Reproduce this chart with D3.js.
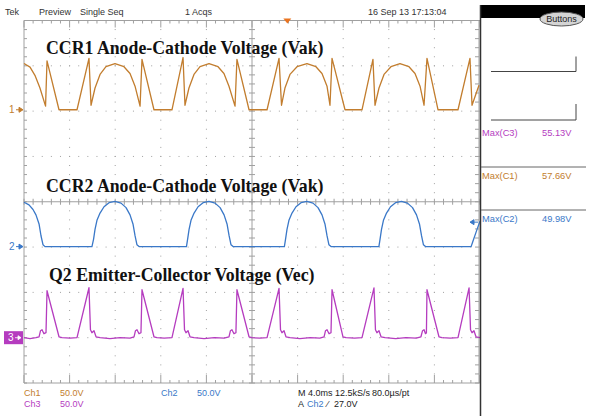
<!DOCTYPE html>
<html>
<head>
<meta charset="utf-8">
<script src="https://cdn.jsdelivr.net/npm/d3@7"></script>
<style>
  body { margin: 0; background: #fff; }
  svg { display: block; }
  text { font-family: "Liberation Sans", Arial, sans-serif; font-size: 9px; }
</style>
</head>
<body>
<svg width="589" height="416"></svg>
<script>
// scope settings
let voltsPerDiv = [50, 50, 50];
let chOffsetDiv = [2.03, -0.99, -3.0];   // ground position of ch1..ch3, in divisions
let msPerDiv = 4;
let triggerTime = 23.1;   // ms
let triggerLevel = 27.0;  // V on ch2

// ch1 - CCR1 anode-cathode [ms, V]
let ch1Points = [
    [0, 51], [0.53, 47], [0.96, 38], [1.40, 24], [1.89, 4], [2.02, 54], [3.07, 0], [4.65, 0], [5.70, 56.7], [5.88, 5],
    [6.23, 24], [6.67, 39], [7.19, 47.5], [7.98, 51], [8.77, 47.5], [9.30, 40], [9.74, 26], [10.18, 4], [10.35, 55.6], [11.40, 0],
    [12.98, 0], [13.95, 57.66], [14.12, 5],
    [14.47, 24], [14.91, 39], [15.44, 47.5], [16.23, 51], [17.02, 47.5], [17.54, 40], [17.98, 26], [18.51, 4], [18.68, 55.6], [19.74, 0],
    [21.32, 0], [22.37, 56.7], [22.59, 5],
    [22.89, 24], [23.33, 39], [23.95, 47.5], [24.82, 51], [25.61, 47.5], [26.14, 40], [26.58, 26], [26.84, 5], [27.02, 56.7], [28.16, 0],
    [29.65, 0], [30.61, 55.6], [30.79, 5],
    [31.14, 24], [31.58, 39], [32.19, 47.5], [32.98, 51], [33.77, 47.5], [34.30, 40], [34.74, 26], [35.09, 5], [35.35, 56.7], [36.32, 0],
    [38.07, 0], [39.12, 56.7], [39.30, 5], [39.91, 27]
];

// ch2 - CCR2 anode-cathode [ms, V]
let ch2Points = [
    [0, 49], [0.44, 46], [0.79, 41], [1.05, 35], [1.32, 25], [1.49, 12], [1.67, 2], [1.84, 0], [5.96, 0],
    [6.10, 8], [6.23, 19], [6.40, 29], [6.67, 37], [7.02, 44], [7.46, 48.5], [7.98, 50], [8.51, 48], [8.95, 43],
    [9.30, 35], [9.56, 25], [9.74, 12], [9.91, 2], [10.09, 0], [14.25, 0],
    [14.35, 8], [14.48, 19], [14.65, 29], [14.92, 37], [15.27, 44], [15.71, 48.5], [16.23, 50], [16.76, 48], [17.20, 43],
    [17.55, 35], [17.81, 25], [17.99, 12], [18.16, 2], [18.34, 0], [22.84, 0],
    [22.94, 8], [23.07, 19], [23.24, 29], [23.51, 37], [23.86, 44], [24.30, 48.5], [24.82, 49.98], [25.35, 48], [25.79, 43],
    [26.14, 35], [26.40, 25], [26.58, 12], [26.75, 2], [26.93, 0], [31.13, 0],
    [31.23, 8], [31.36, 19], [31.53, 29], [31.80, 37], [32.15, 44], [32.59, 48.5], [33.11, 50], [33.64, 48], [34.08, 43],
    [34.43, 35], [34.69, 25], [34.87, 12], [35.04, 2], [35.22, 0], [39.22, 0],
    [39.38, 6], [39.74, 19], [40, 28]
];

// ch3 - Q2 emitter-collector [ms, V]
let ch3Points = [
    [0, 0], [0.53, -1], [1.05, 0], [1.32, 1], [1.45, 7.7], [1.58, 8.8], [1.75, 4.4], [1.93, 5.5], [2.02, 51.8], [3.07, 1],
    [3.33, 0], [4.04, -0.5], [4.65, 0], [5.70, 55.13], [5.83, 8.8], [5.96, 5.5], [6.14, 7.7], [6.32, 1], [6.67, 0],
    [7.54, -1], [8.42, 0], [9.30, -0.5],
    [9.65, 1], [9.78, 7.7], [9.91, 8.8], [10.09, 4.4], [10.26, 5.5], [10.35, 52.9], [11.40, 1], [11.66, 0], [12.30, -0.5],
    [12.98, 0], [13.95, 54.5], [14.08, 8.8], [14.21, 5.5], [14.39, 7.7], [14.56, 1], [14.91, 0], [15.80, -1], [16.70, 0], [17.55, -0.5],
    [17.98, 1], [18.11, 7.7], [18.24, 8.8], [18.42, 4.4], [18.59, 5.5], [18.68, 52.9], [19.74, 1], [20.00, 0], [20.70, -0.5],
    [21.32, 0], [22.37, 54.5], [22.50, 8.8], [22.63, 5.5], [22.81, 7.7], [22.98, 1], [23.33, 0], [24.20, -1], [25.10, 0], [25.95, -0.5],
    [26.32, 1], [26.45, 7.7], [26.58, 8.8], [26.76, 4.4], [26.93, 5.5], [27.02, 52.9], [27.98, 1], [28.25, 0], [29.00, -0.5],
    [29.65, 0], [30.70, 55], [30.83, 8.8], [30.96, 5.5], [31.14, 7.7], [31.32, 1], [31.67, 0], [32.60, -1], [33.50, 0], [34.40, -0.5],
    [34.82, 1], [34.96, 7.7], [35.09, 8.8], [35.22, 4.4], [35.30, 5.5], [35.35, 52.9], [36.40, 1], [36.66, 0], [37.40, -0.5],
    [38.07, 0], [39.04, 55], [39.17, 8.8], [39.30, 5.5], [39.47, 7.7], [39.65, 1], [40, 0]
];

let traceTitles = ["CCR1 Anode-Cathode Voltage (Vak)", "CCR2 Anode-Cathode Voltage (Vak)", "Q2 Emitter-Collector Voltage (Vec)"];
let titleVolts = [62, 60, 63];   // where the title baseline sits, in V of its own channel
let chColors = ["#c27d2e", "#3a78c8", "#b53cbf"];
let chNames = ["Ch1", "Ch2", "Ch3"];
let measLabels = ["Max(C3)", "Max(C1)", "Max(C2)"];
let measValues = ["55.13V", "57.66V", "49.98V"];
let measChannel = [2, 0, 1];

let svg = d3.select("svg");
let gLeft = 24, gRight = 480, gTop = 20.5, gBottom = 383;

let x = d3.scaleLinear().domain([0, 10 * msPerDiv]).range([gLeft, gRight]);
let y = d3.scaleLinear().domain([-4, 4]).range([gBottom, gTop]);   // divisions
let minor = (x(msPerDiv) - x(0)) / 5;
let minorY = (y(0) - y(1)) / 5;

function chY(ch, v) {
    return y(v / voltsPerDiv[ch] + chOffsetDiv[ch]);
}

// graticule
let grid = svg.append("g").attr("stroke", "#a0a0a0").attr("fill", "none");

// dotted division lines
for (let i = 1; i < 10; i++) {
    if (i == 5) continue;
    grid.append("line")
        .attr("x1", x(i * msPerDiv)).attr("x2", x(i * msPerDiv))
        .attr("y1", gTop).attr("y2", gBottom)
        .attr("stroke-dasharray", `1 ${minorY - 1}`)
        .attr("stroke-dashoffset", 0.5);
}
for (let j = -3; j <= 3; j++) {
    if (j == 0) continue;
    grid.append("line")
        .attr("x1", gLeft).attr("x2", gRight)
        .attr("y1", y(j)).attr("y2", y(j))
        .attr("stroke-dasharray", `1 ${minor - 1}`)
        .attr("stroke-dashoffset", 0.5);
}

// center cross with minor ticks
grid.append("line").attr("x1", gLeft).attr("x2", gRight).attr("y1", y(0)).attr("y2", y(0));
grid.append("line").attr("x1", x(5 * msPerDiv)).attr("x2", x(5 * msPerDiv)).attr("y1", gTop).attr("y2", gBottom);

let xTicks = d3.range(0, 51).map(k => k * msPerDiv / 5);
let yTicks = d3.range(0, 41).map(k => -4 + k / 5);

grid.selectAll(".cx").data(xTicks).join("line")
    .attr("x1", d => x(d)).attr("x2", d => x(d))
    .attr("y1", y(0) - 3).attr("y2", y(0) + 3);
grid.selectAll(".cy").data(yTicks).join("line")
    .attr("x1", x(20) - 3).attr("x2", x(20) + 3)
    .attr("y1", d => y(d)).attr("y2", d => y(d));

// border rulers
grid.append("line").attr("x1", gLeft).attr("x2", gRight).attr("y1", gTop).attr("y2", gTop);
grid.append("line").attr("x1", gLeft).attr("x2", gRight).attr("y1", gBottom).attr("y2", gBottom);
grid.append("line").attr("x1", gLeft).attr("x2", gLeft).attr("y1", gTop).attr("y2", gBottom);
grid.append("line").attr("x1", gRight - 1).attr("x2", gRight - 1).attr("y1", gTop).attr("y2", gBottom);

grid.selectAll(".tt").data(xTicks).join("line")
    .attr("x1", d => x(d)).attr("x2", d => x(d))
    .attr("y1", gTop).attr("y2", (d, i) => gTop + (i % 5 == 0 ? 7 : 3));
grid.selectAll(".bt").data(xTicks).join("line")
    .attr("x1", d => x(d)).attr("x2", d => x(d))
    .attr("y1", gBottom).attr("y2", (d, i) => gBottom - (i % 5 == 0 ? 8 : 3));
grid.selectAll(".lt").data(yTicks).join("line")
    .attr("x1", gLeft).attr("x2", gLeft + 3)
    .attr("y1", d => y(d)).attr("y2", d => y(d));
grid.selectAll(".rt").data(yTicks).join("line")
    .attr("x1", gRight - 1).attr("x2", gRight - 5)
    .attr("y1", d => y(d)).attr("y2", d => y(d));

// titles
traceTitles.forEach((t, i) => {
    svg.append("text")
        .attr("x", i == 2 ? 49 : 46)
        .attr("y", chY(i, titleVolts[i]))
        .style("font-family", '"Liberation Serif", "Times New Roman", serif')
        .style("font-size", "17.8px")
        .style("font-weight", "bold")
        .attr("fill", "#111")
        .text(t);
});

// traces
[ch1Points, ch2Points, ch3Points].forEach((pts, ch) => {
    let path = d3.line()
        .x(d => x(d[0]))
        .y(d => chY(ch, d[1]));
    svg.append("path")
        .datum(pts)
        .attr("fill", "none")
        .attr("stroke", chColors[ch])
        .attr("stroke-width", 1.3)
        .attr("stroke-linejoin", "round")
        .attr("d", path);
});

// ground markers
[0, 1].forEach(ch => {
    let gy = chY(ch, 0);
    svg.append("text").attr("x", 9).attr("y", gy + 3.5).attr("fill", chColors[ch]).style("font-size", "10px").text(ch + 1);
    svg.append("path")
        .attr("d", `M16,${gy}H21M19,${gy - 2.5}L23,${gy}L19,${gy + 2.5}Z`)
        .attr("stroke", chColors[ch]).attr("fill", chColors[ch]).attr("stroke-width", 1);
});
{
    let gy = chY(2, 0);
    svg.append("rect").attr("x", 4).attr("y", gy - 6.5).attr("width", 19).attr("height", 13).attr("fill", chColors[2]);
    svg.append("text").attr("x", 8).attr("y", gy + 3.5).attr("fill", "#fff").style("font-size", "10px").text("3");
    svg.append("path")
        .attr("d", `M15,${gy}H20M18,${gy - 2}L21,${gy}L18,${gy + 2}Z`)
        .attr("stroke", "#fff").attr("fill", "#fff").attr("stroke-width", 0.8);
}

// trigger level (ch2) and position markers
{
    let ty = chY(1, triggerLevel);
    svg.append("path")
        .attr("d", `M478,${ty}H471M474,${ty - 2.5}L470,${ty}L474,${ty + 2.5}Z`)
        .attr("stroke", chColors[1]).attr("fill", chColors[1]).attr("stroke-width", 1);
    let tx = x(triggerTime);
    svg.append("path")
        .attr("d", `M${tx - 4},${gTop - 2}L${tx + 4},${gTop - 2}L${tx},${gTop + 3}Z`)
        .attr("fill", "#ea7420");
}

// header
let hdr = svg.append("g").attr("fill", "#333");
hdr.append("text").attr("x", 5).attr("y", 15).text("Tek");
hdr.append("text").attr("x", 39).attr("y", 15).text("Preview");
hdr.append("text").attr("x", 80).attr("y", 15).text("Single Seq");
hdr.append("text").attr("x", 185).attr("y", 15).text("1 Acqs");
hdr.append("text").attr("x", 368).attr("y", 15).text("16 Sep 13 17:13:04");

// right side panel
svg.append("rect").attr("x", 480).attr("y", 5).attr("width", 105).attr("height", 13).attr("fill", "#000");
svg.append("line").attr("x1", 480.5).attr("x2", 480.5).attr("y1", 5).attr("y2", 416).attr("stroke", "#333").attr("stroke-width", 1.5);
svg.append("ellipse").attr("cx", 561.5).attr("cy", 19).attr("rx", 21.5).attr("ry", 7)
    .attr("fill", "#d4d4d4").attr("stroke", "#555").attr("stroke-width", 1);
svg.append("text").attr("x", 561.5).attr("y", 22).attr("text-anchor", "middle").attr("fill", "#222")
    .style("font-size", "9px").text("Buttons");

[[56.5, 71.5], [104, 120]].forEach(b => {
    svg.append("path")
        .attr("d", `M491,${b[1]}H576V${b[0]}`)
        .attr("fill", "none").attr("stroke", "#444").attr("stroke-width", 1);
});
let measY = [136, 178.5, 221.5];
[167, 210].forEach(ly => {
    svg.append("line").attr("x1", 481).attr("x2", 586).attr("y1", ly).attr("y2", ly)
        .attr("stroke", "#666").attr("stroke-width", 1);
});
measLabels.forEach((m, i) => {
    let c = chColors[measChannel[i]];
    svg.append("text").attr("x", 482).attr("y", measY[i]).attr("fill", c).style("font-size", "9.3px").text(m);
    svg.append("text").attr("x", 542).attr("y", measY[i]).attr("fill", c).style("font-size", "9.3px").text(measValues[i]);
});

// footer
let scaleTxt = voltsPerDiv.map(v => v.toFixed(1) + "V");
let foot = svg.append("g").style("font-size", "8.5px");
foot.append("text").attr("x", 24).attr("y", 396).attr("fill", chColors[0]).text(chNames[0]);
foot.append("text").attr("x", 60).attr("y", 396).attr("fill", chColors[0]).text(scaleTxt[0]);
foot.append("text").attr("x", 24).attr("y", 407).attr("fill", chColors[2]).text(chNames[2]);
foot.append("text").attr("x", 60).attr("y", 407).attr("fill", chColors[2]).text(scaleTxt[2]);
foot.append("text").attr("x", 161).attr("y", 396).attr("fill", chColors[1]).text(chNames[1]);
foot.append("text").attr("x", 197).attr("y", 396).attr("fill", chColors[1]).text(scaleTxt[1]);
foot.append("text").attr("x", 298).attr("y", 396).attr("fill", "#222").text(`M ${msPerDiv.toFixed(1)}ms 12.5kS/s`);
foot.append("text").attr("x", 372).attr("y", 396).attr("fill", "#222").text("80.0µs/pt");
foot.append("text").attr("x", 298).attr("y", 407).attr("fill", "#222").text("A");
foot.append("text").attr("x", 307).attr("y", 407).attr("fill", chColors[1]).text(chNames[1]);
foot.append("text").attr("x", 327).attr("y", 407).attr("fill", "#222").text("⁄");
foot.append("text").attr("x", 334).attr("y", 407).attr("fill", "#222").text(triggerLevel.toFixed(1) + "V");
</script>
</body>
</html>
